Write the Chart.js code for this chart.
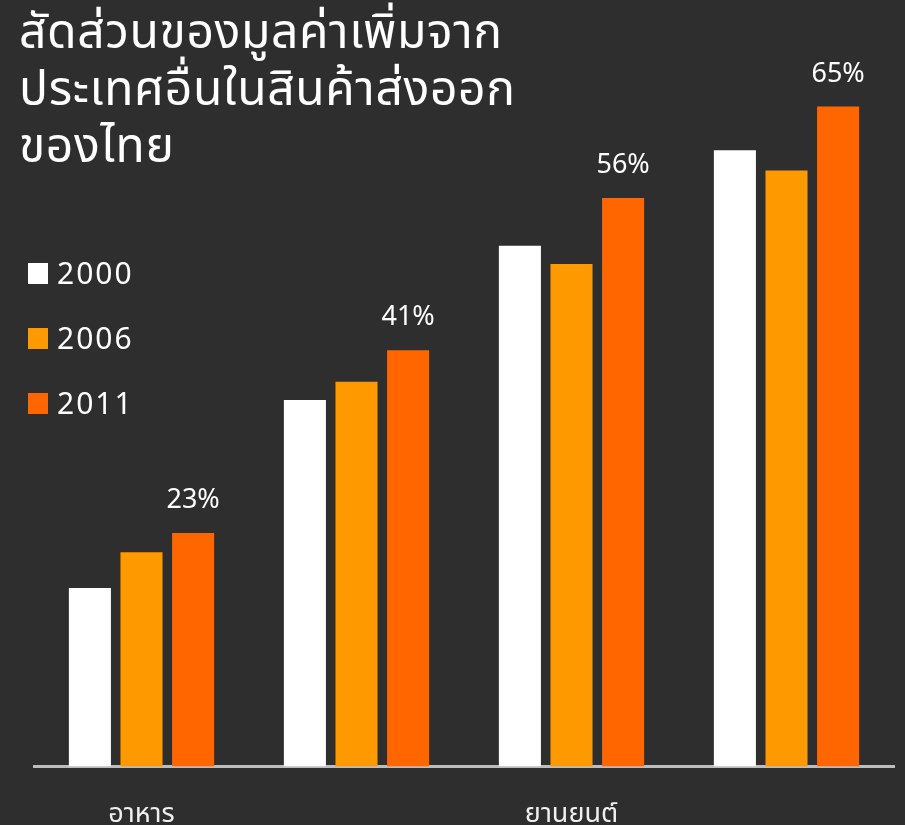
<!DOCTYPE html>
<html lang="th">
<head>
    <meta charset="UTF-8">
    <title>สัดส่วนของมูลค่าเพิ่มจากประเทศอื่นในสินค้าส่งออกของไทย</title>
    <script src="https://cdn.jsdelivr.net/npm/chart.js"></script>
    <style>
        html, body{
            margin: 0;
            padding: 0;
            background-color: #2e2e2e;
            overflow: hidden;
        }
        .wrap{
            position: relative;
            width: 905px;
            height: 825px;
            overflow: hidden;
        }
        canvas{
            position: absolute;
            left: 0;
            top: 0;
        }
        .title{
            position: absolute;
            left: 19px;
            top: 5px;
            color: #ffffff;
            font-family: "Noto Sans Thai", "Noto Sans", sans-serif;
            font-size: 48px;
            line-height: 57px;
            letter-spacing: 0.6px;
        }
        .legend{
            position: absolute;
            left: 28px;
            top: 258px;
            font-family: "Noto Sans", sans-serif;
            font-size: 30px;
            letter-spacing: 2px;
            color: #ffffff;
        }
        .legend div{
            height: 65px;
            display: flex;
            align-items: flex-start;
        }
        .legend span.box{
            display: inline-block;
            width: 20px;
            height: 21px;
            margin-top: 5px;
            margin-right: 9px;
        }
        .legend span.txt{
            line-height: 30px;
        }
    </style>
</head>
<body>
<div class="wrap">
    <!-- canvas is taller than the page so the tick labels end up where they should -->
    <canvas id="miCanvas" width="905" height="867"></canvas>
    <div class="title">สัดส่วนของมูลค่าเพิ่มจาก<br>ประเทศอื่นในสินค้าส่งออก<br>ของไทย</div>
    <div class="legend" id="legend"></div>
</div>
<script>
    // data (percent)
    const categories = ["อาหาร", "", "ยานยนต์", ""];
    const years = ["2000", "2006", "2011"];
    const values2000 = [17.6, 36.1, 51.3, 60.7];
    const values2006 = [21.1, 37.9, 49.5, 58.7];
    const values2011 = [23, 41, 56, 65];
    const colors = ["#ffffff", "#ff9900", "#ff6600"];

    // legend
    const legend = document.getElementById("legend");
    years.forEach((y, i) => {
        const row = document.createElement("div");
        row.innerHTML = '<span class="box" style="background:' + colors[i] + '"></span><span class="txt">' + y + '</span>';
        legend.appendChild(row);
    });

    // % labels above the 2011 bars only
    const topLabels = {
        id: "topLabels",
        afterDatasetsDraw(chart){
            const ctx = chart.ctx;
            const meta = chart.getDatasetMeta(2);
            ctx.save();
            ctx.fillStyle = "#ffffff";
            ctx.font = "27px 'Noto Sans', sans-serif";
            ctx.textAlign = "center";
            ctx.textBaseline = "alphabetic";
            meta.data.forEach((bar, i) => {
                ctx.fillText(values2011[i] + "%", bar.x, bar.y - 25);
            });
            ctx.restore();
        }
    };

    const ctx = document.getElementById("miCanvas").getContext("2d");
    new Chart(ctx, {
        type: "bar",
        data: {
            labels: categories,
            datasets: [
                {label: years[0], data: values2000, backgroundColor: colors[0]},
                {label: years[1], data: values2006, backgroundColor: colors[1]},
                {label: years[2], data: values2011, backgroundColor: colors[2]}
            ]
        },
        options: {
            responsive: false,
            animation: false,
            categoryPercentage: 0.72,
            barPercentage: 0.815,
            layout: {
                padding: {left: 34, right: 11, top: 0, bottom: 0}
            },
            plugins: {
                legend: {display: false},
                tooltip: {enabled: false}
            },
            scales: {
                x: {
                    grid: {display: false, drawTicks: false},
                    border: {display: true, color: "#bdbdbd", width: 3},
                    ticks: {
                        color: "#f0f0f0",
                        padding: 34,
                        font: {family: "'Noto Sans Thai', 'Noto Sans', sans-serif", size: 27}
                    }
                },
                y: {
                    display: false,
                    min: 0,
                    max: 75.5
                }
            }
        },
        plugins: [topLabels]
    });
</script>
</body>
</html>
